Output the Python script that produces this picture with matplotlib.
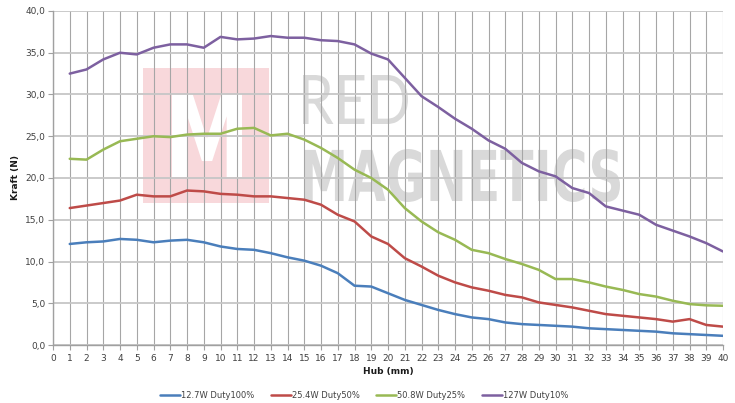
import matplotlib
matplotlib.use("Agg")
import matplotlib.pyplot as plt
from matplotlib.textpath import TextPath
from matplotlib.patches import PathPatch, Rectangle
from matplotlib.font_manager import FontProperties
from matplotlib.transforms import Affine2D, IdentityTransform
from matplotlib.ticker import MultipleLocator, FuncFormatter

# Data
hub = list(range(1, 41))
duty_100 = [12.1, 12.3, 12.4, 12.7, 12.6, 12.3, 12.5, 12.6, 12.3, 11.8,
            11.5, 11.4, 11.0, 10.5, 10.1, 9.5, 8.6, 7.1, 7.0, 6.2,
            5.4, 4.8, 4.2, 3.7, 3.3, 3.1, 2.7, 2.5, 2.4, 2.3,
            2.2, 2.0, 1.9, 1.8, 1.7, 1.6, 1.4, 1.3, 1.2, 1.1]
duty_50 = [16.4, 16.7, 17.0, 17.3, 18.0, 17.8, 17.8, 18.5, 18.4, 18.1,
           18.0, 17.8, 17.8, 17.6, 17.4, 16.8, 15.6, 14.8, 13.0, 12.1,
           10.4, 9.4, 8.3, 7.5, 6.9, 6.5, 6.0, 5.7, 5.1, 4.8,
           4.5, 4.1, 3.7, 3.5, 3.3, 3.1, 2.8, 3.1, 2.4, 2.2]
duty_25 = [22.3, 22.2, 23.4, 24.4, 24.7, 25.0, 24.9, 25.2, 25.3, 25.3,
           25.9, 26.0, 25.1, 25.3, 24.6, 23.6, 22.4, 21.0, 20.0, 18.6,
           16.4, 14.8, 13.5, 12.6, 11.4, 11.0, 10.3, 9.7, 9.0, 7.9,
           7.9, 7.5, 7.0, 6.6, 6.1, 5.8, 5.3, 4.9, 4.75, 4.7]
duty_10 = [32.5, 33.0, 34.2, 35.0, 34.8, 35.6, 36.0, 36.0, 35.6, 36.9,
           36.6, 36.7, 37.0, 36.8, 36.8, 36.5, 36.4, 36.0, 34.9, 34.2,
           32.0, 29.8, 28.5, 27.1, 25.9, 24.5, 23.5, 21.8, 20.8, 20.2,
           18.8, 18.2, 16.6, 16.1, 15.6, 14.4, 13.7, 13.0, 12.2, 11.2]

series = [
    ("12.7W Duty100%", duty_100, "#4a7ebb"),
    ("25.4W Duty50%", duty_50, "#be4b48"),
    ("50.8W Duty25%", duty_25, "#98b954"),
    ("127W Duty10%", duty_10, "#7d60a0"),
]

W, H = 735, 403
fig = plt.figure(figsize=(W / 100, H / 100), dpi=100)
ax = fig.add_axes([53 / W, 1 - 345 / H, 670 / W, 334 / H])
ax.set_zorder(2)
ax.patch.set_alpha(0)


def text_in_box(s, x0, y0, x1, y1, prop, color, z=0.5):
    """Draw string s stretched into a pixel box (top-left origin)."""
    tp = TextPath((0, 0), s, size=100, prop=prop)
    bb = tp.get_extents()
    sx = (x1 - x0) / bb.width
    sy = (y1 - y0) / bb.height
    tr = (Affine2D().translate(-bb.x0, -bb.y0).scale(sx, sy)
          .translate(x0, H - y1))
    patch = PathPatch(tr.transform_path(tp), color=color, lw=0,
                      transform=IdentityTransform(), zorder=z)
    fig.add_artist(patch)


# watermark behind the axes
fig.add_artist(Rectangle((143, H - 203), 126, 135, color="#f8d8db", lw=0,
                         transform=IdentityTransform(), zorder=0.4))
text_in_box("M", 172, 94, 242, 177,
            FontProperties(family="DejaVu Sans", weight="bold"), "white")
text_in_box("RED", 303, 75, 408, 124,
            FontProperties(family="Lato"), "#d9d9d9")
text_in_box("MAGNETICS", 304, 149, 620, 202,
            FontProperties(family="DejaVu Sans", weight="bold"), "#d9d9d9")

for label, vals, col in series:
    ax.plot(hub, vals, color=col, lw=1.8, label=label, solid_joinstyle="round",
            solid_capstyle="round", zorder=3)

ax.set_xlim(0, 40)
ax.set_ylim(0, 40)
ax.xaxis.set_major_locator(MultipleLocator(1))
ax.yaxis.set_major_locator(MultipleLocator(5))
ax.yaxis.set_major_formatter(FuncFormatter(lambda v, p: f"{v:.1f}".replace(".", ",")))

ax.grid(axis="x", color="#a6a6a6", lw=0.8, zorder=1)
ax.grid(axis="y", color="#c6c6c6", lw=1.3, zorder=1)
ax.set_axisbelow(True)
for sp in ("top", "right"):
    ax.spines[sp].set_visible(False)
for sp in ("left", "bottom"):
    ax.spines[sp].set_color("#a0a0a0")
    ax.spines[sp].set_linewidth(1.0)

ax.tick_params(axis="both", labelsize=6.5, colors="#a0a0a0", labelcolor="#404040",
               length=3.5, width=0.8, direction="out")
ax.tick_params(axis="x", pad=3)
ax.tick_params(axis="y", pad=2)

ax.set_xlabel("Hub (mm)", fontsize=6.5, fontweight="bold", color="#1a1a1a", labelpad=3)
ax.set_ylabel("Kraft (N)", fontsize=6.5, fontweight="bold", color="#1a1a1a", labelpad=4)

ax.legend(loc="center", bbox_to_anchor=(364 / W, 1 - 395 / H),
          bbox_transform=fig.transFigure, ncol=4, frameon=False, fontsize=6,
          handlelength=2.4, handletextpad=0.1, columnspacing=2.0, labelcolor="#404040",
          borderpad=0.1)

fig.savefig("out.png", dpi=100)
